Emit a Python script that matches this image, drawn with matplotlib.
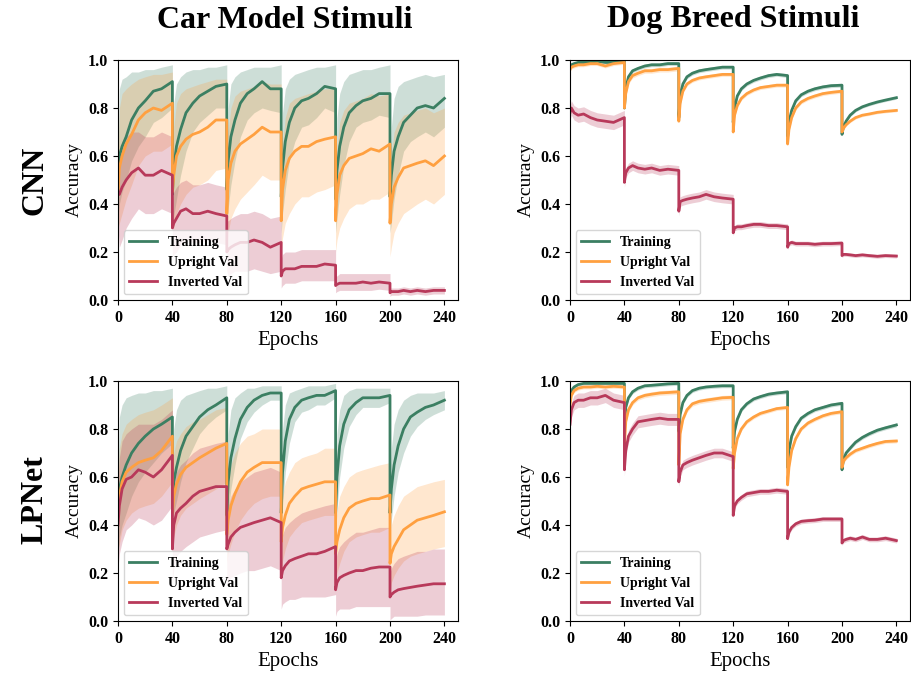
import matplotlib
matplotlib.use('Agg')
import matplotlib.pyplot as plt
import numpy as np

plt.rcParams['font.family'] = ['Liberation Serif', 'DejaVu Serif']

# === DATOS ===
# 6 etapas de 40 epocas, muestras en estos desfases dentro de cada etapa
OFFSETS = [0, 1, 3, 6, 10, 15, 20, 26, 32, 40]
N_STAGES = 6
EPOCH_TICKS = [0, 40, 80, 120, 160, 200, 240]
ACC_TICKS = [0.0, 0.2, 0.4, 0.6, 0.8, 1.0]
SERIES = ["Training", "Upright Val", "Inverted Val"]

# --- Car / CNN ---
car_cnn_train = [0.50,0.60,0.64,0.68,0.75,0.80,0.83,0.87,0.88,0.91,
                 0.44,0.55,0.64,0.71,0.78,0.82,0.85,0.87,0.89,0.90,
                 0.46,0.58,0.68,0.75,0.82,0.86,0.88,0.91,0.88,0.88,
                 0.43,0.55,0.66,0.74,0.80,0.83,0.84,0.86,0.89,0.88,
                 0.42,0.54,0.64,0.72,0.78,0.81,0.83,0.84,0.86,0.86,
                 0.43,0.52,0.62,0.68,0.74,0.77,0.80,0.81,0.80,0.84]
car_cnn_train_hi = [0.60,0.88,0.92,0.93,0.95,0.95,0.96,0.96,0.97,0.98,
                    0.60,0.82,0.90,0.93,0.95,0.96,0.96,0.97,0.97,0.98,
                    0.58,0.80,0.90,0.93,0.95,0.96,0.97,0.97,0.97,0.98,
                    0.55,0.78,0.88,0.92,0.94,0.95,0.96,0.97,0.97,0.98,
                    0.55,0.76,0.86,0.91,0.94,0.95,0.96,0.96,0.97,0.98,
                    0.55,0.72,0.84,0.89,0.91,0.92,0.93,0.94,0.93,0.94]
car_cnn_train_lo = [0.35,0.40,0.45,0.50,0.58,0.64,0.68,0.74,0.76,0.80,
                    0.30,0.35,0.42,0.52,0.62,0.70,0.74,0.77,0.80,0.80,
                    0.30,0.38,0.48,0.58,0.68,0.75,0.78,0.80,0.79,0.78,
                    0.28,0.36,0.46,0.58,0.66,0.72,0.73,0.76,0.80,0.78,
                    0.28,0.34,0.44,0.56,0.66,0.72,0.74,0.75,0.77,0.76,
                    0.28,0.32,0.42,0.52,0.62,0.66,0.68,0.70,0.68,0.72]
car_cnn_up = [0.44,0.55,0.60,0.65,0.69,0.75,0.78,0.80,0.79,0.82,
              0.45,0.52,0.60,0.64,0.67,0.69,0.70,0.72,0.75,0.75,
              0.36,0.50,0.57,0.62,0.65,0.67,0.69,0.72,0.70,0.70,
              0.33,0.46,0.54,0.59,0.62,0.64,0.64,0.66,0.67,0.68,
              0.33,0.44,0.52,0.56,0.59,0.60,0.61,0.63,0.62,0.65,
              0.32,0.40,0.47,0.51,0.55,0.56,0.57,0.58,0.56,0.60]
car_cnn_up_hi = [0.55,0.80,0.86,0.88,0.90,0.92,0.93,0.94,0.94,0.95,
                 0.55,0.72,0.82,0.86,0.88,0.89,0.90,0.91,0.92,0.92,
                 0.50,0.70,0.80,0.85,0.87,0.88,0.89,0.91,0.90,0.90,
                 0.45,0.65,0.76,0.82,0.84,0.85,0.86,0.87,0.88,0.88,
                 0.45,0.63,0.74,0.79,0.82,0.83,0.84,0.86,0.85,0.86,
                 0.45,0.60,0.70,0.74,0.77,0.78,0.79,0.80,0.78,0.80]
car_cnn_up_lo = [0.30,0.32,0.36,0.42,0.48,0.56,0.60,0.62,0.62,0.65,
                 0.30,0.30,0.36,0.40,0.44,0.47,0.48,0.50,0.54,0.55,
                 0.22,0.28,0.34,0.38,0.42,0.45,0.48,0.52,0.50,0.50,
                 0.20,0.26,0.32,0.36,0.40,0.43,0.43,0.45,0.46,0.48,
                 0.20,0.25,0.30,0.34,0.38,0.40,0.40,0.42,0.42,0.45,
                 0.18,0.22,0.28,0.32,0.36,0.38,0.40,0.42,0.40,0.44]
car_cnn_inv = [0.45,0.44,0.47,0.50,0.53,0.55,0.52,0.52,0.54,0.52,
               0.30,0.32,0.34,0.37,0.38,0.36,0.36,0.37,0.36,0.35,
               0.20,0.21,0.22,0.23,0.24,0.24,0.25,0.24,0.22,0.24,
               0.10,0.12,0.13,0.13,0.13,0.14,0.14,0.14,0.15,0.145,
               0.06,0.065,0.07,0.07,0.07,0.07,0.075,0.07,0.075,0.07,
               0.03,0.035,0.035,0.035,0.04,0.035,0.04,0.035,0.04,0.04]
car_cnn_inv_hi = [0.55,0.62,0.66,0.68,0.70,0.70,0.68,0.68,0.70,0.68,
                  0.42,0.45,0.47,0.49,0.50,0.48,0.48,0.49,0.48,0.47,
                  0.33,0.33,0.34,0.35,0.36,0.36,0.37,0.36,0.34,0.35,
                  0.17,0.19,0.20,0.20,0.20,0.21,0.21,0.21,0.21,0.21,
                  0.10,0.10,0.11,0.11,0.11,0.11,0.11,0.11,0.11,0.11,
                  0.05,0.05,0.05,0.05,0.055,0.05,0.055,0.05,0.055,0.055]
car_cnn_inv_lo = [0.30,0.22,0.25,0.30,0.34,0.38,0.36,0.36,0.38,0.36,
                  0.18,0.19,0.20,0.23,0.25,0.24,0.24,0.25,0.24,0.23,
                  0.12,0.10,0.11,0.12,0.12,0.12,0.13,0.12,0.11,0.12,
                  0.05,0.06,0.07,0.07,0.07,0.08,0.08,0.08,0.08,0.08,
                  0.03,0.035,0.04,0.04,0.04,0.04,0.04,0.04,0.045,0.04,
                  0.015,0.02,0.02,0.02,0.025,0.02,0.025,0.02,0.025,0.025]

# --- Car / LPNet ---
car_lp_train = [0.48,0.55,0.60,0.65,0.70,0.74,0.77,0.80,0.82,0.85,
                0.50,0.58,0.64,0.71,0.77,0.81,0.85,0.88,0.90,0.93,
                0.44,0.58,0.68,0.76,0.84,0.89,0.92,0.94,0.95,0.95,
                0.45,0.62,0.75,0.84,0.89,0.92,0.93,0.94,0.94,0.96,
                0.45,0.60,0.73,0.82,0.88,0.91,0.93,0.93,0.93,0.94,
                0.45,0.55,0.65,0.73,0.80,0.85,0.87,0.89,0.90,0.92]
car_lp_train_hi = [0.60,0.85,0.90,0.93,0.94,0.95,0.95,0.96,0.96,0.97,
                   0.60,0.80,0.88,0.92,0.94,0.95,0.96,0.97,0.97,0.98,
                   0.55,0.78,0.88,0.93,0.95,0.97,0.97,0.98,0.98,0.98,
                   0.55,0.80,0.90,0.95,0.96,0.97,0.98,0.98,0.98,0.99,
                   0.55,0.78,0.88,0.94,0.96,0.97,0.97,0.97,0.97,0.97,
                   0.55,0.72,0.82,0.88,0.92,0.94,0.95,0.95,0.95,0.96]
car_lp_train_lo = [0.25,0.35,0.40,0.45,0.52,0.58,0.62,0.66,0.70,0.74,
                   0.40,0.45,0.50,0.58,0.66,0.72,0.78,0.82,0.85,0.88,
                   0.35,0.45,0.55,0.65,0.76,0.83,0.87,0.90,0.92,0.92,
                   0.35,0.48,0.62,0.74,0.83,0.87,0.88,0.90,0.90,0.93,
                   0.35,0.46,0.60,0.72,0.81,0.86,0.89,0.89,0.89,0.91,
                   0.35,0.42,0.52,0.62,0.70,0.77,0.81,0.84,0.86,0.88]
car_lp_up = [0.46,0.52,0.58,0.62,0.64,0.66,0.67,0.68,0.71,0.77,
             0.45,0.52,0.57,0.61,0.64,0.66,0.68,0.70,0.72,0.74,
             0.36,0.42,0.48,0.53,0.58,0.62,0.64,0.66,0.66,0.66,
             0.33,0.39,0.44,0.49,0.52,0.55,0.56,0.57,0.58,0.58,
             0.28,0.33,0.38,0.43,0.47,0.49,0.50,0.51,0.51,0.525,
             0.24,0.28,0.31,0.34,0.38,0.40,0.42,0.43,0.44,0.455]
car_lp_up_hi = [0.60,0.72,0.78,0.82,0.84,0.86,0.87,0.88,0.90,0.93,
                0.60,0.70,0.75,0.78,0.81,0.83,0.84,0.86,0.88,0.89,
                0.48,0.58,0.65,0.70,0.74,0.77,0.78,0.80,0.80,0.80,
                0.45,0.52,0.58,0.62,0.66,0.68,0.69,0.70,0.72,0.72,
                0.40,0.46,0.52,0.56,0.60,0.62,0.63,0.64,0.65,0.66,
                0.36,0.40,0.44,0.48,0.52,0.54,0.56,0.57,0.58,0.59]
car_lp_up_lo = [0.30,0.32,0.38,0.42,0.45,0.47,0.48,0.49,0.52,0.58,
                0.30,0.35,0.40,0.44,0.47,0.49,0.51,0.53,0.55,0.58,
                0.24,0.28,0.32,0.37,0.42,0.46,0.49,0.51,0.52,0.52,
                0.20,0.25,0.30,0.35,0.38,0.41,0.42,0.43,0.44,0.44,
                0.16,0.20,0.24,0.29,0.33,0.35,0.36,0.37,0.37,0.39,
                0.12,0.16,0.19,0.22,0.25,0.27,0.28,0.29,0.30,0.31]
car_lp_inv = [0.40,0.48,0.55,0.59,0.60,0.63,0.62,0.60,0.63,0.69,
              0.30,0.40,0.45,0.47,0.49,0.52,0.54,0.55,0.56,0.56,
              0.30,0.32,0.35,0.37,0.39,0.40,0.41,0.42,0.43,0.41,
              0.18,0.21,0.23,0.25,0.26,0.27,0.28,0.28,0.29,0.31,
              0.13,0.16,0.18,0.19,0.20,0.21,0.21,0.22,0.225,0.225,
              0.10,0.11,0.12,0.13,0.135,0.14,0.145,0.15,0.155,0.155]
car_lp_inv_hi = [0.55,0.68,0.75,0.78,0.80,0.82,0.82,0.82,0.84,0.88,
                 0.45,0.56,0.62,0.65,0.67,0.70,0.72,0.73,0.74,0.75,
                 0.45,0.48,0.52,0.55,0.58,0.60,0.62,0.63,0.64,0.62,
                 0.32,0.36,0.39,0.41,0.43,0.45,0.46,0.47,0.48,0.49,
                 0.25,0.28,0.31,0.33,0.35,0.37,0.37,0.38,0.39,0.39,
                 0.20,0.22,0.24,0.26,0.27,0.28,0.29,0.29,0.30,0.30]
car_lp_inv_lo = [0.22,0.28,0.33,0.38,0.40,0.43,0.42,0.40,0.42,0.48,
                 0.15,0.22,0.27,0.29,0.31,0.33,0.35,0.36,0.37,0.38,
                 0.15,0.16,0.18,0.19,0.20,0.21,0.21,0.22,0.23,0.21,
                 0.05,0.07,0.08,0.09,0.09,0.10,0.10,0.10,0.10,0.11,
                 0.02,0.04,0.05,0.05,0.05,0.06,0.06,0.06,0.06,0.06,
                 0.005,0.01,0.02,0.02,0.02,0.02,0.02,0.025,0.025,0.025]

# --- Dog / CNN --- (bandas estrechas: ancho medio por etapa)
dog_cnn_train = [0.975,0.98,0.985,0.99,0.99,0.99,0.995,0.99,0.99,0.995,
                 0.80,0.88,0.93,0.955,0.965,0.975,0.98,0.98,0.985,0.985,
                 0.76,0.85,0.90,0.93,0.945,0.955,0.96,0.965,0.97,0.97,
                 0.74,0.80,0.85,0.88,0.90,0.915,0.925,0.935,0.94,0.935,
                 0.68,0.74,0.79,0.83,0.855,0.87,0.88,0.888,0.893,0.895,
                 0.69,0.72,0.745,0.77,0.79,0.805,0.815,0.825,0.833,0.843]
dog_cnn_up = [0.96,0.97,0.975,0.98,0.98,0.985,0.985,0.975,0.985,0.99,
              0.80,0.86,0.91,0.935,0.945,0.955,0.955,0.96,0.96,0.965,
              0.745,0.82,0.87,0.90,0.915,0.925,0.93,0.935,0.94,0.94,
              0.70,0.77,0.81,0.84,0.86,0.875,0.885,0.89,0.895,0.895,
              0.65,0.71,0.76,0.80,0.825,0.84,0.85,0.86,0.865,0.87,
              0.70,0.715,0.73,0.745,0.76,0.77,0.775,0.782,0.786,0.79]
dog_cnn_inv = [0.78,0.80,0.78,0.77,0.775,0.76,0.75,0.745,0.74,0.76,
               0.49,0.53,0.55,0.56,0.55,0.545,0.55,0.54,0.545,0.54,
               0.37,0.41,0.415,0.42,0.425,0.43,0.44,0.43,0.425,0.42,
               0.28,0.30,0.305,0.305,0.31,0.315,0.315,0.31,0.31,0.305,
               0.22,0.235,0.24,0.235,0.235,0.235,0.232,0.235,0.235,0.237,
               0.185,0.19,0.19,0.188,0.185,0.188,0.185,0.182,0.185,0.183]
dog_cnn_train_sd = [0.006, 0.008, 0.008, 0.008, 0.008, 0.006]
dog_cnn_up_sd = [0.008, 0.01, 0.008, 0.008, 0.008, 0.006]
dog_cnn_inv_sd = [0.03, 0.02, 0.02, 0.012, 0.01, 0.008]

# --- Dog / LPNet ---
dog_lp_train = [0.94,0.96,0.975,0.985,0.99,0.99,0.99,0.99,0.99,0.99,
                0.82,0.89,0.93,0.955,0.97,0.98,0.982,0.985,0.988,0.99,
                0.79,0.86,0.91,0.94,0.96,0.97,0.975,0.978,0.98,0.98,
                0.72,0.79,0.84,0.88,0.905,0.925,0.935,0.945,0.95,0.955,
                0.64,0.71,0.77,0.81,0.845,0.865,0.88,0.89,0.90,0.907,
                0.63,0.67,0.70,0.72,0.745,0.765,0.78,0.795,0.805,0.817]
dog_lp_up = [0.90,0.94,0.96,0.97,0.975,0.975,0.978,0.975,0.978,0.975,
             0.73,0.83,0.88,0.91,0.93,0.94,0.945,0.95,0.952,0.955,
             0.65,0.78,0.84,0.88,0.905,0.915,0.92,0.925,0.93,0.932,
             0.635,0.70,0.76,0.80,0.83,0.85,0.865,0.875,0.885,0.89,
             0.567,0.64,0.71,0.76,0.80,0.825,0.84,0.855,0.865,0.872,
             0.64,0.665,0.68,0.695,0.71,0.72,0.73,0.74,0.748,0.75]
dog_lp_inv = [0.82,0.88,0.91,0.92,0.92,0.93,0.93,0.94,0.92,0.91,
              0.63,0.71,0.77,0.80,0.83,0.835,0.84,0.845,0.84,0.84,
              0.58,0.62,0.65,0.66,0.67,0.68,0.69,0.70,0.70,0.685,
              0.44,0.48,0.50,0.515,0.53,0.535,0.54,0.54,0.545,0.54,
              0.343,0.37,0.39,0.405,0.415,0.418,0.42,0.425,0.425,0.425,
              0.325,0.335,0.34,0.345,0.34,0.35,0.34,0.34,0.345,0.335]
dog_lp_train_sd = [0.006, 0.008, 0.008, 0.008, 0.008, 0.008]
dog_lp_up_sd = [0.008, 0.01, 0.01, 0.008, 0.008, 0.008]
dog_lp_inv_sd = [0.03, 0.025, 0.02, 0.012, 0.01, 0.01]

COLORS = ['#3b7f62', '#ffa040', '#b8395a']


def epochs():
    return np.concatenate([40 * k + np.array(OFFSETS) for k in range(N_STAGES)])


def band_from_sd(mean, sd):
    m = np.array(mean)
    s = np.repeat(sd, len(OFFSETS))
    return m - s, m + s


def draw_panel(ax, means, los, his, legend=True):
    x = epochs()
    handles = []
    for m, lo, hi, c, lbl in zip(means, los, his, COLORS, SERIES):
        ax.fill_between(x, lo, hi, color=c, alpha=0.25, linewidth=0)
        h, = ax.plot(x, m, color=c, linewidth=2, label=lbl)
        handles.append(h)
    ax.set_xlim(0, 250)
    ax.set_ylim(0, 1)
    ax.set_xticks(EPOCH_TICKS)
    ax.set_yticks(ACC_TICKS)
    ax.set_yticklabels([f"{t:.1f}" for t in ACC_TICKS])
    for lab in ax.get_xticklabels() + ax.get_yticklabels():
        lab.set_fontweight('bold')
        lab.set_fontsize(11.5)
    ax.set_xlabel("Epochs", fontsize=15)
    ax.set_ylabel("Accuracy", fontsize=14)
    if legend:
        ax.legend(handles=handles, loc='lower left', prop={'weight': 'bold', 'size': 10},
                  framealpha=0.8, borderaxespad=0.4)


fig = plt.figure(figsize=(9.12, 6.75), dpi=100)
W, H = 912.0, 675.0
ax1 = fig.add_axes([118 / W, 1 - 300 / H, 340 / W, 240 / H])
ax2 = fig.add_axes([570 / W, 1 - 300 / H, 340 / W, 240 / H])
ax3 = fig.add_axes([118 / W, 1 - 621 / H, 340 / W, 240 / H])
ax4 = fig.add_axes([570 / W, 1 - 621 / H, 340 / W, 240 / H])

draw_panel(ax1, [car_cnn_train, car_cnn_up, car_cnn_inv],
           [car_cnn_train_lo, car_cnn_up_lo, car_cnn_inv_lo],
           [car_cnn_train_hi, car_cnn_up_hi, car_cnn_inv_hi])
draw_panel(ax3, [car_lp_train, car_lp_up, car_lp_inv],
           [car_lp_train_lo, car_lp_up_lo, car_lp_inv_lo],
           [car_lp_train_hi, car_lp_up_hi, car_lp_inv_hi])

b = [band_from_sd(dog_cnn_train, dog_cnn_train_sd), band_from_sd(dog_cnn_up, dog_cnn_up_sd),
     band_from_sd(dog_cnn_inv, dog_cnn_inv_sd)]
draw_panel(ax2, [dog_cnn_train, dog_cnn_up, dog_cnn_inv], [t[0] for t in b], [t[1] for t in b])
b = [band_from_sd(dog_lp_train, dog_lp_train_sd), band_from_sd(dog_lp_up, dog_lp_up_sd),
     band_from_sd(dog_lp_inv, dog_lp_inv_sd)]
draw_panel(ax4, [dog_lp_train, dog_lp_up, dog_lp_inv], [t[0] for t in b], [t[1] for t in b])

fig.text(285 / W, 1 - 20 / H, "Car Model Stimuli", ha='center', va='center', fontsize=23, fontweight='bold')
fig.text(733 / W, 1 - 20 / H, "Dog Breed Stimuli", ha='center', va='center', fontsize=23, fontweight='bold')
fig.text(35 / W, 1 - 180 / H, "CNN", ha='center', va='center', rotation=90, fontsize=23, fontweight='bold')
fig.text(35 / W, 1 - 500 / H, "LPNet", ha='center', va='center', rotation=90, fontsize=23, fontweight='bold')

plt.savefig("out.png", dpi=100)
plt.close()
